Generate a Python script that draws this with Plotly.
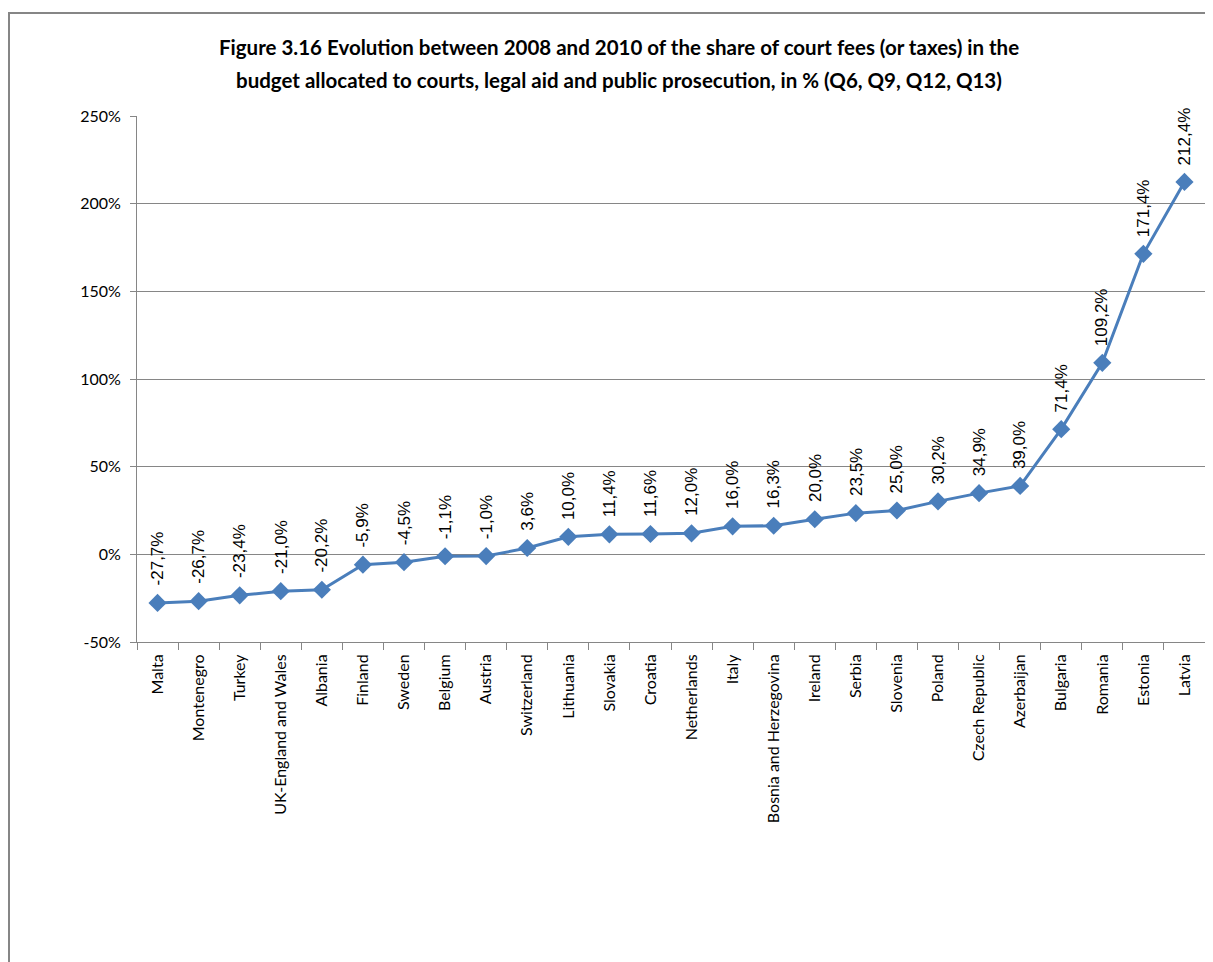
import plotly.graph_objects as go

countries = ["Malta", "Montenegro", "Turkey", "UK-England and Wales", "Albania", "Finland",
             "Sweden", "Belgium", "Austria", "Switzerland", "Lithuania", "Slovakia", "Croatia",
             "Netherlands", "Italy", "Bosnia and Herzegovina", "Ireland", "Serbia", "Slovenia",
             "Poland", "Czech Republic", "Azerbaijan", "Bulgaria", "Romania", "Estonia", "Latvia"]
values = [-27.7, -26.7, -23.4, -21.0, -20.2, -5.9, -4.5, -1.1, -1.0, 3.6, 10.0, 11.4, 11.6,
          12.0, 16.0, 16.3, 20.0, 23.5, 25.0, 30.2, 34.9, 39.0, 71.4, 109.2, 171.4, 212.4]
y_ticks = [-50, 0, 50, 100, 150, 200, 250]
y_tick_labels = ["-50%", "0%", "50%", "100%", "150%", "200%", "250%"]

title_lines = ["Figure 3.16 Evolution between 2008 and 2010 of the share of court fees (or taxes) in the",
               "budget allocated to courts, legal aid and public prosecution, in % (Q6, Q9, Q12, Q13)"]

BLUE = "#4A7EBB"
OFF = 8  # page body margin
W, H = 1213 - OFF, 962 - OFF
L, R, T, B = 137 - OFF, 8, 116 - OFF, 320

fig = go.Figure()
fig.add_trace(go.Scatter(
    x=countries, y=values, mode="lines+markers",
    line=dict(color=BLUE, width=3),
    marker=dict(symbol="diamond", size=14, color=BLUE),
    hoverinfo="x+y", showlegend=False,
))

labels = [f"{v:.1f}".replace(".", ",") + "%" for v in values]
for c, v, t in zip(countries, values, labels):
    fig.add_annotation(x=c, y=v, xref="x", yref="y", text=t, showarrow=False,
                       textangle=-90, xanchor="center", yanchor="bottom", yshift=15,
                       font=dict(family="Liberation Sans, Arial", size=17, color="#000000"))

pw = W - L - R
ph = H - T - B
x0 = (9 - OFF - L) / pw
x1 = (1240 - L) / pw
y1 = (H - B - (13 - OFF)) / ph
y0 = (H - B - 1000) / ph
fig.add_shape(type="rect", xref="paper", yref="paper", x0=x0, x1=x1, y0=y0, y1=y1,
              line=dict(color="#868686", width=2), fillcolor="rgba(0,0,0,0)", layer="below")

# title: two lines placed individually to match line spacing
for i, line in enumerate(title_lines):
    cy = [47, 80][i] - OFF
    fig.add_annotation(xref="paper", yref="paper", x=(619 - OFF - L) / pw,
                       y=(H - B - cy) / ph, text=f"<b>{line}</b>", showarrow=False,
                       xanchor="center", yanchor="middle",
                       font=dict(family="Lato", size=20.5, color="#000000"))

fig.update_layout(
    width=W, height=H,
    margin=dict(l=L, r=R, t=T, b=B, pad=0),
    paper_bgcolor="white", plot_bgcolor="white",
    font=dict(family="Lato", size=16, color="#000000"),
)
fig.update_xaxes(
    type="category", tickangle=-90, showgrid=False, showline=True, linecolor="#868686",
    linewidth=1, ticks="outside", tickson="boundaries", ticklen=7, tickcolor="#868686",
    ticklabelstandoff=5,
    tickfont=dict(family="Lato", size=16, color="#000000"), range=[-0.5, len(countries) - 0.5],
)
fig.update_yaxes(
    range=[-50, 250], tickvals=y_ticks, ticktext=y_tick_labels, showgrid=True,
    gridcolor="#868686", gridwidth=1, zeroline=False, showline=True, linecolor="#868686",
    linewidth=1, ticks="outside", ticklen=6, tickcolor="#868686", ticklabelstandoff=6,
    tickfont=dict(family="Lato", size=16, color="#000000"),
)

fig.write_html("out.html")
